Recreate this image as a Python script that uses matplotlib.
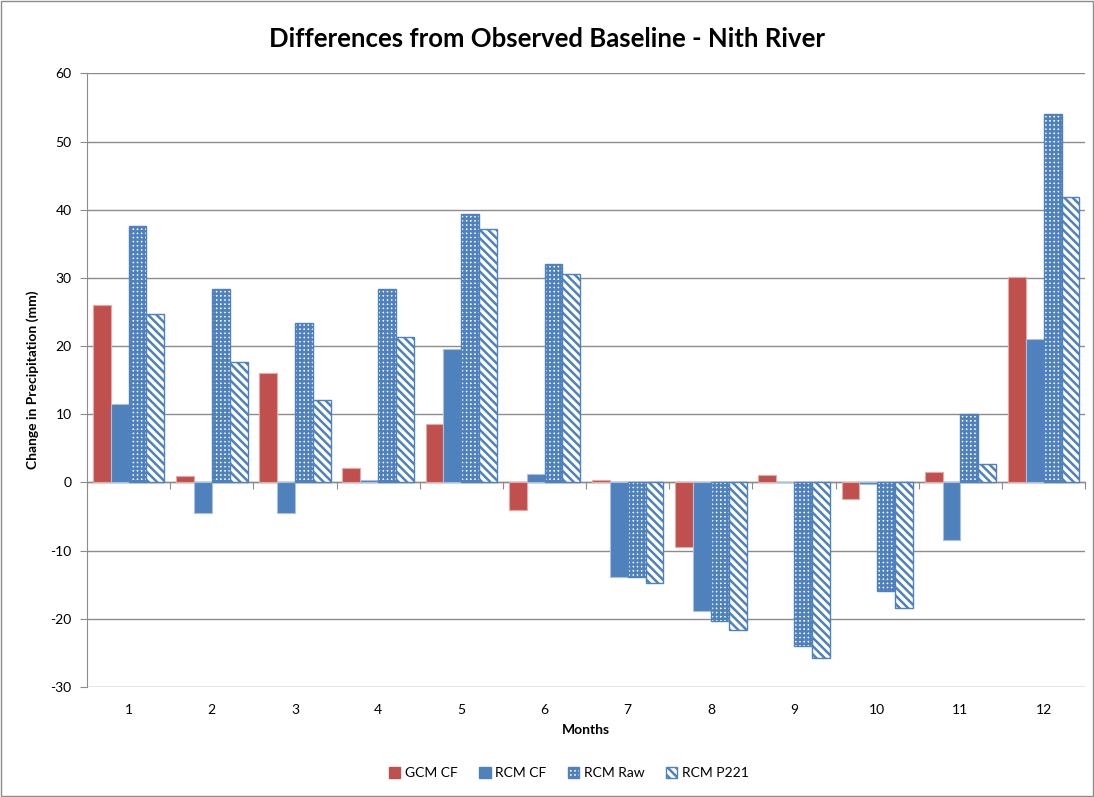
import matplotlib
matplotlib.use('Agg')
import matplotlib.pyplot as plt
import matplotlib.patches as mpatches
import numpy as np

plt.rcParams['font.family'] = ['Lato', 'DejaVu Sans']
plt.rcParams['hatch.linewidth'] = 1.8
plt.rcParams['axes.unicode_minus'] = False

months = ['1', '2', '3', '4', '5', '6', '7', '8', '9', '10', '11', '12']
gcm_cf = [26.0, 1.0, 16.0, 2.1, 8.6, -4.1, 0.3, -9.5, 1.1, -2.5, 1.5, 30.1]
rcm_cf = [11.5, -4.5, -4.5, 0.3, 19.5, 1.3, -13.8, -18.8, 0.0, -0.3, -8.4, 21.0]
rcm_raw = [37.6, 28.3, 23.4, 28.4, 39.4, 32.0, -13.8, -20.3, -24.0, -15.9, 10.1, 54.0]
rcm_p221 = [24.7, 17.7, 12.1, 21.3, 37.1, 30.6, -14.8, -21.6, -25.7, -18.4, 2.7, 41.9]

RED = '#C0504D'
BLUE = '#4F81BD'

fig = plt.figure(figsize=(10.94, 7.97), dpi=100)
ax = fig.add_axes([0.0795, 0.138, 0.9125, 0.770])

x = np.arange(len(months))
w = 0.215

ax.bar(x - 1.5 * w, gcm_cf, w, color=RED, edgecolor='#E6A9A7', linewidth=0.8, zorder=3)
ax.bar(x - 0.5 * w, rcm_cf, w, color=BLUE, edgecolor='#A9C0E0', linewidth=0.8, zorder=3)
ax.bar(x + 0.5 * w, rcm_raw, w, facecolor='white', edgecolor=BLUE, hatch='++++',
       linewidth=1.0, zorder=3)
ax.bar(x + 1.5 * w, rcm_p221, w, facecolor='white', edgecolor=BLUE, hatch='\\\\\\\\',
       linewidth=1.0, zorder=3)

ax.set_xlim(-0.5, len(months) - 0.5)
ax.set_ylim(-30, 60)
ax.set_yticks(np.arange(-30, 61, 10))
ax.yaxis.grid(True, color='#8C8C8C', linewidth=1.0, zorder=0)
ax.set_axisbelow(True)

ax.set_xticks(x)
ax.set_xticklabels(months)
ax.tick_params(axis='x', length=0, labelsize=10, pad=12)
ax.tick_params(axis='y', length=5, color='#8C8C8C', labelsize=10, pad=6)

for s in ['top', 'right', 'bottom']:
    ax.spines[s].set_visible(False)
ax.spines['left'].set_color('#8C8C8C')

# zero line with category separator ticks
zero = ax.secondary_xaxis(1 / 3)
zero.set_xticks(np.arange(-0.5, len(months), 1.0))
zero.tick_params(axis='x', direction='out', length=5, color='#8C8C8C', labelbottom=False,
                 labeltop=False)
zero.spines['bottom'].set_color('#8C8C8C')
zero.spines['bottom'].set_linewidth(1.0)

ax.set_ylabel('Change in Precipitation (mm)', fontsize=10, fontweight='bold', labelpad=8)
ax.set_xlabel('Months', fontsize=10, fontweight='bold', labelpad=6)

fig.suptitle('Differences from Observed Baseline - Nith River', fontsize=18.5,
             fontweight='bold', y=0.966)

handles = [
    mpatches.Patch(facecolor=RED, edgecolor=RED, label='GCM CF'),
    mpatches.Patch(facecolor=BLUE, edgecolor=BLUE, label='RCM CF'),
    mpatches.Patch(facecolor='white', edgecolor=BLUE, hatch='++++', label='RCM Raw'),
    mpatches.Patch(facecolor='white', edgecolor=BLUE, hatch='\\\\\\\\', label='RCM P221'),
]
fig.legend(handles=handles, loc='center', bbox_to_anchor=(0.52, 0.03), ncol=4,
           frameon=False, fontsize=10, handlelength=0.8, handleheight=0.8,
           handletextpad=0.3, columnspacing=1.6)

fig.patches.append(mpatches.Rectangle((0.001, 0.001), 0.998, 0.998, transform=fig.transFigure,
                                      fill=False, edgecolor='#8C8C8C', linewidth=1.0))

fig.savefig('out.png', dpi=100)
